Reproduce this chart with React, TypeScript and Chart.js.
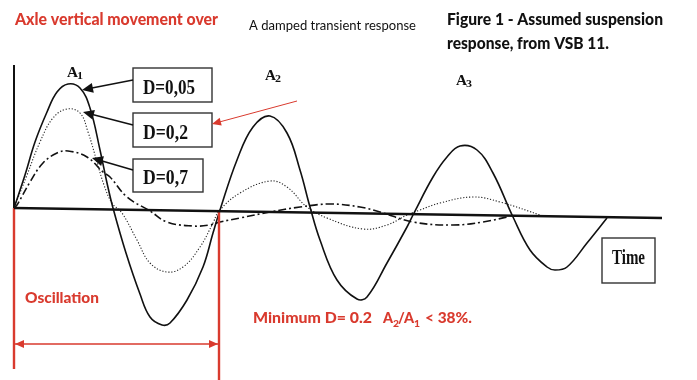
import React, { useEffect, useRef } from "react";
import { Chart, registerables } from "chart.js";

Chart.register(...registerables);

// time (arbitrary units) vs. axle displacement
const D005: [number, number][] = [
  [0, 0], [11, 33], [21, 66], [33, 96], [43, 116], [54, 124], [66, 120], [76, 100], [86, 58], [93, 25], [99, 0],
  [112, -45], [126, -86], [136, -109], [148, -117], [156, -115], [173, -92], [189, -59], [199, -25], [206, -2],
  [223, 48], [239, 81], [256, 92], [273, 75], [286, 38], [296, 1], [306, -32], [323, -72], [343, -91],
  [353, -89], [373, -55], [393, -19], [400, -5], [419, 31], [433, 51], [446, 62], [463, 58], [479, 35],
  [499, -9], [516, -42], [533, -59], [541, -62], [553, -59], [573, -35], [593, -10],
];
const D02: [number, number][] = [
  [0, 0], [13, 33], [26, 66], [39, 90], [53, 99], [66, 95], [74, 76], [83, 46], [90, 23], [98, 5], [108, -5],
  [123, -32], [136, -55], [153, -64], [169, -59], [186, -39], [199, -15], [205, -3], [226, 15], [256, 27],
  [273, 21], [293, 1], [313, -10], [349, -21], [373, -17], [393, -7], [406, -2], [426, 5], [459, 11],
  [486, 6], [529, -8],
];
const D07: [number, number][] = [
  [0, 0], [3, 3], [16, 26], [29, 45], [43, 55], [54, 57], [73, 51], [89, 36], [96, 31], [113, 11], [136, -3],
  [153, -14], [179, -18], [196, -17], [206, -14], [226, -10], [256, -4], [286, 1], [316, 4], [346, 1],
  [366, -4], [399, -14], [439, -17], [469, -14], [493, -9],
];
const BASELINE: [number, number][] = [[0, 0], [648, -10]];
const Y_AXIS: [number, number][] = [[0, 0], [0, 143]];
const OSC_START: [number, number][] = [[0, 0], [0, -161]];
const OSC_END: [number, number][] = [[205, -3], [205, -172]];
const OSC_SPAN: [number, number][] = [[0, -136], [205, -136]];
const X_RANGE = [-14, 683];
const Y_RANGE = [-172, 208];

const DAMPING_LABELS = ["D=0,05", "D=0,2", "D=0,7"];
const PEAK_LABELS = ["1", "2", "3"];

const RED = "#d93a2e";
const SANS = "Lato, 'Open Sans', sans-serif";
const SERIF = "'Liberation Serif', 'DejaVu Serif', serif";

const pts = (a: [number, number][]) => a.map(([x, y]) => ({ x, y }));

function fitText(ctx: CanvasRenderingContext2D, text: string, x: number, y: number, width: number, font: string, color: string) {
  ctx.save();
  ctx.font = font;
  ctx.fillStyle = color;
  ctx.textBaseline = "alphabetic";
  ctx.textAlign = "left";
  const w = ctx.measureText(text).width;
  ctx.translate(x, y);
  ctx.scale(width / w, 1);
  ctx.fillText(text, 0, 0);
  ctx.restore();
}

function arrow(ctx: CanvasRenderingContext2D, fx: number, fy: number, tx: number, ty: number, color: string, lw: number, len: number, hw: number, drawLine = true) {
  const ang = Math.atan2(ty - fy, tx - fx);
  const c = Math.cos(ang), s = Math.sin(ang);
  ctx.save();
  ctx.strokeStyle = color;
  ctx.fillStyle = color;
  ctx.lineWidth = lw;
  if (drawLine) {
    ctx.beginPath();
    ctx.moveTo(fx, fy);
    ctx.lineTo(tx - len * 0.8 * c, ty - len * 0.8 * s);
    ctx.stroke();
  }
  ctx.beginPath();
  ctx.moveTo(tx, ty);
  ctx.lineTo(tx - len * c + hw * s, ty - len * s - hw * c);
  ctx.lineTo(tx - len * c - hw * s, ty - len * s + hw * c);
  ctx.closePath();
  ctx.fill();
  ctx.restore();
}

const annotations = {
  id: "annotations",
  afterDatasetsDraw(chart: any) {
    const ctx: CanvasRenderingContext2D = chart.ctx;
    const xs = chart.scales.x, ys = chart.scales.y;
    // titles
    fitText(ctx, "Axle vertical movement over", 15, 25, 203, `900 17px ${SANS}`, RED);
    fitText(ctx, "A damped transient response", 249, 30, 167, `12.5px ${SANS}`, "#111");
    fitText(ctx, "Figure 1 - Assumed suspension", 447, 25, 216, `900 17px ${SANS}`, "#111");
    fitText(ctx, "response, from VSB 11.", 447, 49, 162, `900 17px ${SANS}`, "#111");
    fitText(ctx, "Oscillation", 25, 303, 74, `900 15.5px ${SANS}`, RED);
    fitText(ctx, "Minimum D= 0.2", 253, 323, 119, `900 15px ${SANS}`, RED);
    fitText(ctx, "A", 383, 323, 10, `900 15px ${SANS}`, RED);
    fitText(ctx, "2", 393, 327, 6, `900 10px ${SANS}`, RED);
    fitText(ctx, "/A", 398, 323, 16, `900 15px ${SANS}`, RED);
    fitText(ctx, "1", 414, 327, 6, `900 10px ${SANS}`, RED);
    fitText(ctx, "< 38%.", 425, 323, 47, `900 15px ${SANS}`, RED);

    // peak labels
    const peaks: [number, number, number][] = [[67, 77, 0], [265, 80, 1], [456, 85, 2]];
    peaks.forEach(([x, y, i]) => {
      fitText(ctx, "A", x, y, 11, `bold 15px ${SERIF}`, "#111");
      fitText(ctx, PEAK_LABELS[i], x + 10, y + 2, 6, `bold 10px ${SERIF}`, "#111");
    });

    // boxes
    const boxes: [number, number, number, number, string, number, number][] = [
      [133, 68, 79, 34, DAMPING_LABELS[0], 52, 94],
      [133, 113, 79, 34, DAMPING_LABELS[1], 45, 139],
      [133, 159, 70, 33, DAMPING_LABELS[2], 45, 184],
      [602, 238, 53, 45, "Time", 33, 264],
    ];
    boxes.forEach(([x, y, w, h, t, tw, by]) => {
      ctx.save();
      ctx.strokeStyle = "#333";
      ctx.lineWidth = 1.4;
      ctx.strokeRect(x, y, w, h);
      ctx.restore();
      fitText(ctx, t, x + 10, by, tw, `bold 20px ${SERIF}`, "#111");
    });

    // black pointer arrows
    arrow(ctx, 133, 80, 82, 90, "#111", 1.5, 11, 5);
    arrow(ctx, 133, 125, 83, 112, "#111", 1.5, 11, 5);
    arrow(ctx, 133, 170, 92, 158, "#111", 1.5, 11, 5);
    // red pointer arrow
    arrow(ctx, 297, 101, 212, 124, RED, 1, 9, 4);

    // oscillation span arrow heads
    const yA = ys.getPixelForValue(OSC_SPAN[0][1]);
    const x0 = xs.getPixelForValue(OSC_SPAN[0][0]);
    const x1 = xs.getPixelForValue(OSC_SPAN[1][0]);
    arrow(ctx, x1, yA, x0 + 1, yA, RED, 1.5, 9, 4, false);
    arrow(ctx, x0, yA, x1 - 1, yA, RED, 1.5, 9, 4, false);
  },
};

export default function App() {
  const ref = useRef<HTMLCanvasElement | null>(null);
  useEffect(() => {
    if (!ref.current) return;
    const line = (data: [number, number][], color: string, width: number, dash: number[] = [], tension = 0) => ({
      data: pts(data),
      borderColor: color,
      borderWidth: width,
      borderDash: dash,
      pointRadius: 0,
      fill: false,
      tension,
    });
    const chart = new Chart(ref.current, {
      type: "line",
      data: {
        datasets: [
          line(BASELINE, "#111", 2.6),
          line(Y_AXIS, "#111", 2),
          line(OSC_START, RED, 2.4),
          line(OSC_END, RED, 2.4),
          line(OSC_SPAN, RED, 1.5),
          line(D005, "#111", 1.6, [], 0.4),
          line(D02, "#222", 1.1, [1.2, 1.8], 0.4),
          line(D07, "#111", 1.6, [8, 3, 2, 3], 0.4),
        ] as any,
      },
      options: {
        animation: false,
        responsive: false,
        devicePixelRatio: 1,
        layout: { padding: 0 },
        scales: {
          x: { type: "linear", min: X_RANGE[0], max: X_RANGE[1], display: false },
          y: { type: "linear", min: Y_RANGE[0], max: Y_RANGE[1], display: false },
        },
        plugins: { legend: { display: false }, tooltip: { enabled: false } },
      },
      plugins: [annotations],
    });
    return () => chart.destroy();
  }, []);
  return (
    <div style={{ position: "absolute", left: 0, top: 0, width: 697, height: 380, background: "#fff" }}>
      <canvas ref={ref} width={697} height={380} />
    </div>
  );
}
